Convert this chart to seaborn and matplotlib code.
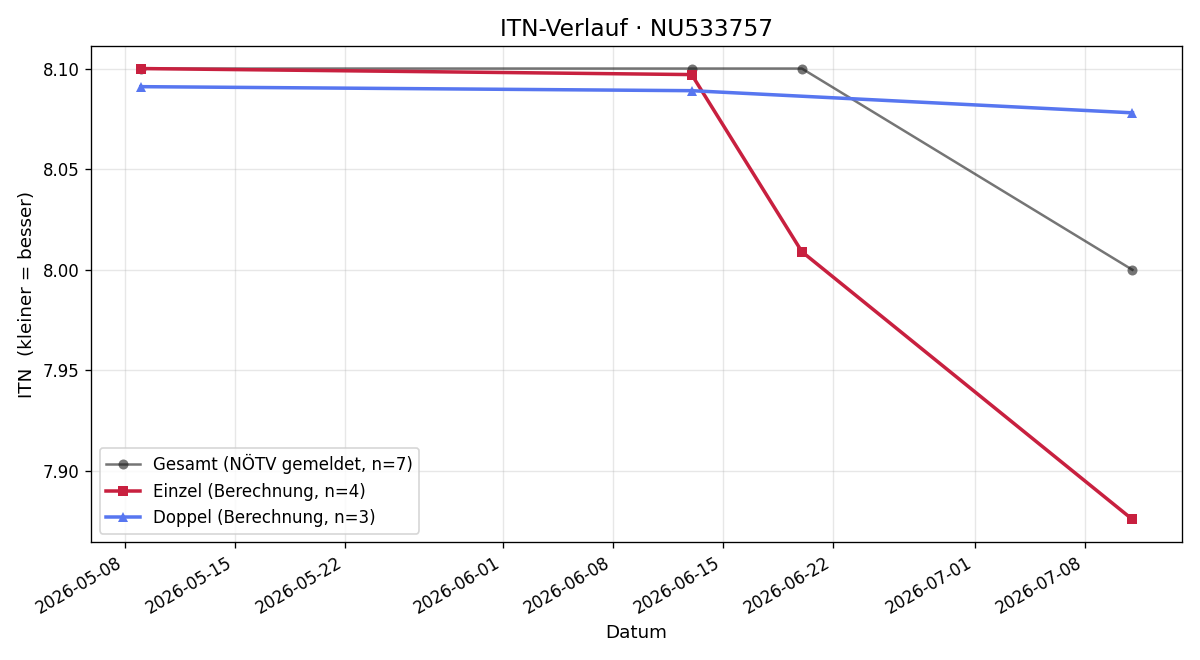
import matplotlib
matplotlib.use("Agg")
import matplotlib.pyplot as plt
import matplotlib.dates as mdates
import matplotlib.ticker as mticker
import seaborn as sns
import pandas as pd

gesamt_dates = ["2026-05-09", "2026-06-13", "2026-06-20", "2026-07-11"]
gesamt_vals = [8.10, 8.10, 8.10, 8.00]
einzel_dates = ["2026-05-09", "2026-06-13", "2026-06-20", "2026-07-11"]
einzel_vals = [8.100, 8.097, 8.009, 7.876]
doppel_dates = ["2026-05-09", "2026-06-13", "2026-07-11"]
doppel_vals = [8.091, 8.089, 8.078]
tick_dates = ["2026-05-08", "2026-05-15", "2026-05-22", "2026-06-01", "2026-06-08",
              "2026-06-15", "2026-06-22", "2026-07-01", "2026-07-08"]

plt.rcParams.update(plt.rcParamsDefault)
matplotlib.use("Agg")
plt.rcParams['font.family'] = ['DejaVu Sans']

fig, ax = plt.subplots(figsize=(10, 5.5), dpi=120)

g = pd.DataFrame({"d": pd.to_datetime(gesamt_dates), "v": gesamt_vals})
e = pd.DataFrame({"d": pd.to_datetime(einzel_dates), "v": einzel_vals})
dp = pd.DataFrame({"d": pd.to_datetime(doppel_dates), "v": doppel_vals})

sns.lineplot(data=g, x="d", y="v", ax=ax, color="#1a1a1a", alpha=0.6, marker="o",
             markersize=6, linewidth=1.5, markeredgewidth=0,
             label="Gesamt (NÖTV gemeldet, n=7)")
sns.lineplot(data=e, x="d", y="v", ax=ax, color="#c8203f", alpha=1.0, marker="s",
             markersize=6.5, linewidth=2.1, markeredgewidth=0,
             label="Einzel (Berechnung, n=4)")
sns.lineplot(data=dp, x="d", y="v", ax=ax, color="#5776f0", alpha=1.0, marker="^",
             markersize=6.5, linewidth=2.1, markeredgewidth=0,
             label="Doppel (Berechnung, n=3)")

ax.set_title("ITN-Verlauf · NU533757", fontsize=14)
ax.set_xlabel("Datum", fontsize=11)
ax.set_ylabel("ITN  (kleiner = besser)", fontsize=11)
ax.set_yticks([7.90, 7.95, 8.00, 8.05, 8.10])
ax.yaxis.set_major_formatter(mticker.FormatStrFormatter("%.2f"))
ax.set_xticks(pd.to_datetime(tick_dates))
ax.xaxis.set_major_formatter(mdates.DateFormatter("%Y-%m-%d"))
ax.grid(True, alpha=0.3)
ax.tick_params(axis="both", labelsize=10)
ax.legend(loc="lower left", fontsize=10)
fig.autofmt_xdate()
fig.tight_layout()
fig.savefig("out.png", dpi=120)
